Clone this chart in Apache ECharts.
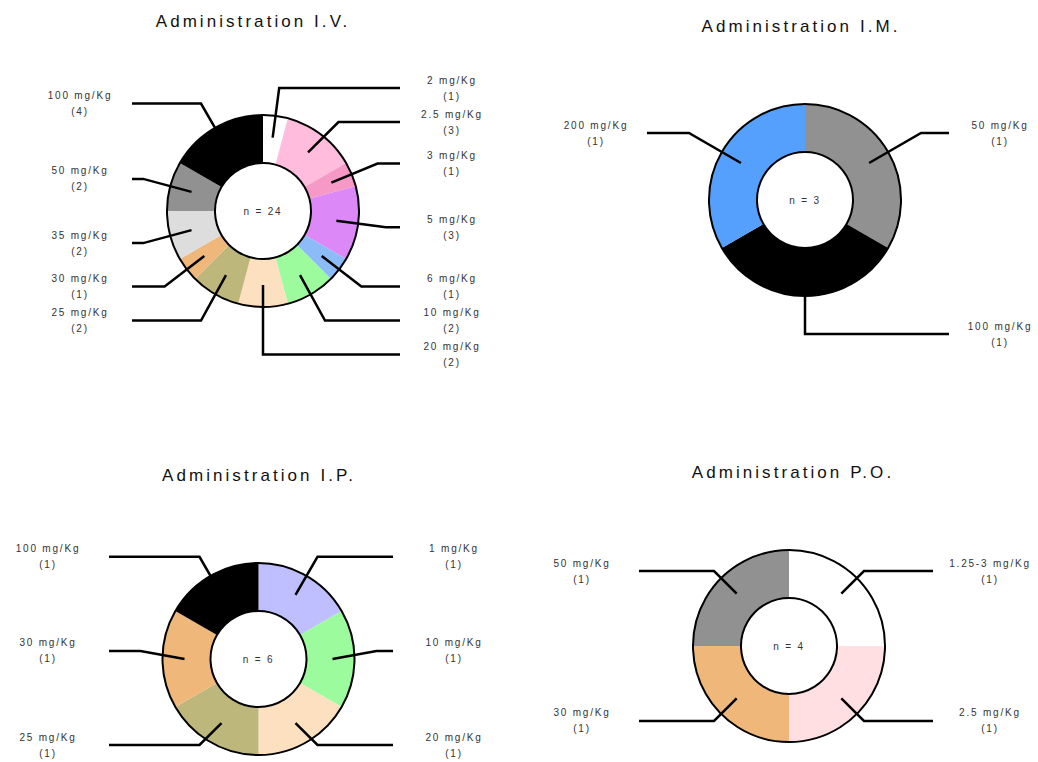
<!DOCTYPE html>
<html>
	<head>
		<meta charset="UTF-8">
		<title></title>
		<style>
			body { margin: 0; background: #fff; }
			/* the reference text is set very wide */
			#pies text { letter-spacing: 0.18em; }
		</style>
	</head>
	<body>
		<div id='pies' style="width:1038px;height:762px;"></div>
	</body>
	<script type="text/javascript" src="https://cdn.jsdelivr.net/npm/echarts@6/dist/echarts.min.js"></script>
	<script>
		// I.V.
		var ivDoses = ['2 mg/Kg', '2.5 mg/Kg', '3 mg/Kg', '5 mg/Kg', '6 mg/Kg', '10 mg/Kg', '20 mg/Kg', '25 mg/Kg', '30 mg/Kg', '35 mg/Kg', '50 mg/Kg', '100 mg/Kg'];
		var ivCounts = [1, 3, 1, 3, 1, 2, 2, 2, 1, 2, 2, 4];
		var ivColors = ['#ffffff', '#ffbcdd', '#f799c7', '#dd88f7', '#8cbcf7', '#9cfb9c', '#fde0c0', '#bdb77b', '#f0b77b', '#dddddd', '#919191', '#000000'];
		// I.M.
		var imDoses = ['50 mg/Kg', '100 mg/Kg', '200 mg/Kg'];
		var imCounts = [1, 1, 1];
		var imColors = ['#919191', '#000000', '#55a0fc'];
		// I.P.
		var ipDoses = ['1 mg/Kg', '10 mg/Kg', '20 mg/Kg', '25 mg/Kg', '30 mg/Kg', '100 mg/Kg'];
		var ipCounts = [1, 1, 1, 1, 1, 1];
		var ipColors = ['#bfbfff', '#9cfb9c', '#fde0c0', '#bdb77b', '#f0b77b', '#000000'];
		// P.O.
		var poDoses = ['1.25-3 mg/Kg', '2.5 mg/Kg', '30 mg/Kg', '50 mg/Kg'];
		var poCounts = [1, 1, 1, 1];
		var poColors = ['#ffffff', '#ffdfe1', '#f0b77b', '#919191'];

		var font = 'Liberation Sans, Arial, sans-serif';

		// one donut = colour ring + outline ring (with n in the middle) + invisible pie carrying the labels
		// box = [left, top, width, height] of the area the labels are laid out in, centre is relative to it
		function donut(names, counts, colors, box, cx, cy, len, gap) {
			var n = counts.reduce(function (a, b) { return a + b; }, 0);
			var ring = names.map(function (d, i) {
				return { name: d, value: counts[i], itemStyle: { color: colors[i] } };
			});
			var ghost = names.map(function (d, i) {
				return { name: d, value: counts[i] };
			});
			var place = { left: box[0], top: box[1], width: box[2], height: box[3], center: [cx, cy] };
			return [
				Object.assign({
					type: 'pie', radius: [48, 96], clockwise: true, startAngle: 90,
					silent: true, animation: false, z: 2, label: { show: false }, labelLine: { show: false },
					itemStyle: { borderWidth: 0 },
					data: ring
				}, place),
				Object.assign({
					type: 'pie', radius: [48, 96], silent: true, animation: false, z: 3,
					itemStyle: { color: 'rgba(0,0,0,0)', borderColor: '#000', borderWidth: 2 },
					label: {
						show: true, position: 'center', formatter: 'n = ' + n,
						fontFamily: font, fontSize: 10, color: '#333'
					},
					labelLine: { show: false },
					data: [{ name: 'n', value: n }]
				}, place),
				Object.assign({
					type: 'pie', radius: [0, 74], clockwise: true, startAngle: 90,
					silent: true, animation: false, z: 5,
					itemStyle: { color: 'rgba(0,0,0,0)', borderWidth: 0 },
					label: {
						show: true, position: 'outside', alignTo: 'edge', edgeDistance: 3, distanceToLabelLine: gap,
						minMargin: 8,
						formatter: function (p) { return '{a|' + p.name + '}\n{a|(' + p.value + ')}'; },
						padding: [6, 0],
						rich: { a: { width: 66, align: 'center', fontFamily: font, fontSize: 10, lineHeight: 16, color: '#333' } }
					},
					labelLine: { show: true, length: len, length2: 4, lineStyle: { color: '#000', width: 2.5 } },
					data: ghost
				}, place)
			];
		}

		function title(text, x, y) {
			return {
				text: text, left: x, top: y, textAlign: 'center',
				textStyle: { fontFamily: font, fontSize: 17, fontWeight: 'normal', color: '#111' }
			};
		}

		var chart = echarts.init(document.getElementById('pies'), null, { renderer: 'svg' });
		var option = {
			backgroundColor: '#fff',
			title: [
				title('Administration I.V.', 248, 8),
				title('Administration I.M.', 796, 13),
				title('Administration I.P.', 254, 462),
				title('Administration P.O.', 788, 459)
			],
			series: [].concat(
				donut(ivDoses, ivCounts, ivColors, [44, 40, 444, 340], 219, 171, 50, 19),
				donut(imDoses, imCounts, imColors, [560, 50, 476, 330], 245, 150, 60, 18),
				donut(ipDoses, ipCounts, ipColors, [12, 500, 478, 262], 246.5, 159, 44, 28),
				donut(poDoses, poCounts, poColors, [546, 490, 480, 272], 243, 156, 32, 24)
			)
		};
		chart.setOption(option);
	</script>
</html>
